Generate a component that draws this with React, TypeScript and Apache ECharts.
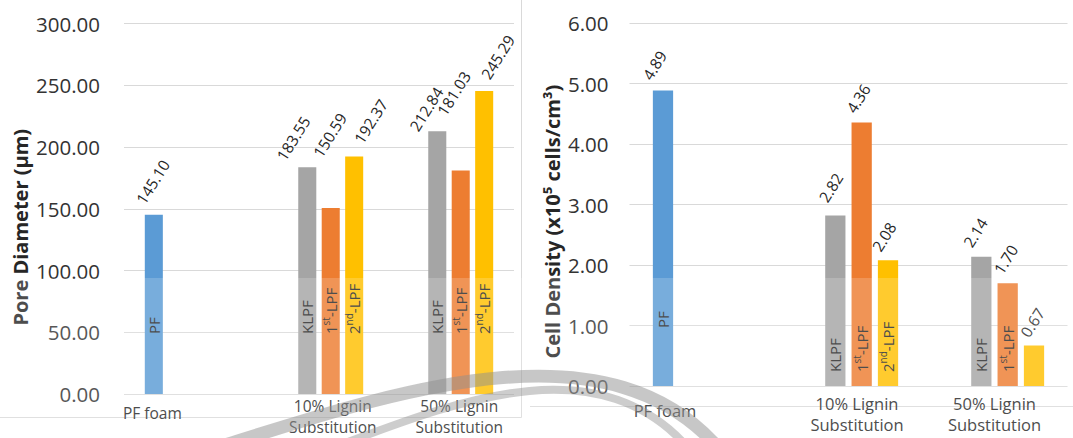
import { useEffect, useRef } from "react";
import * as echarts from "echarts";

// ---------- data ----------
const categories = ["PF foam", "10% Lignin\nSubstitution", "50% Lignin\nSubstitution"];
const seriesNames = ["PF", "KLPF", "1st-LPF", "2nd-LPF"];

const porePF = [145.1, null, null];
const poreKLPF = [null, 183.55, 212.84];
const pore1stLPF = [null, 150.59, 181.03];
const pore2ndLPF = [null, 192.37, 245.29];

const densityPF = [4.89, null, null];
const densityKLPF = [null, 2.82, 2.14];
const density1stLPF = [null, 4.36, 1.7];
const density2ndLPF = [null, 2.08, 0.67];

const poreTicks = [0, 50, 100, 150, 200, 250, 300];
const densityTicks = [0, 1, 2, 3, 4, 5, 6];

// [seriesIndex, categoryIndex] of bars without the series name printed inside
const densityHiddenNames = [[3, 2]];

// ---------- style ----------
const FONT = "'Open Sans', 'Noto Sans', sans-serif";
const TEXT = "#262626";
const colors = ["#5B9BD5", "#A5A5A5", "#ED7D31", "#FFC000"];
const BAR_GAP = 0.3;
const CAT_GAP = 0.32;

// value-label centre offsets (px) from the top centre of each bar, as placed in the original
const poreLabelShift = [
  [[-1, -33], null, null],
  [null, [-14, -29], [-11, -22]],
  [null, [-1, -73], [-7, -77]],
  [null, [16.5, -35], [13.5, -34]],
];
const densityLabelShift = [
  [[-8.5, -25], null, null],
  [null, [-4.5, -28], [-6, -24]],
  [null, [-3.5, -24], [-2, -24]],
  [null, [-4, -23.5], [-1.6, -23]],
];

const panels = [
  {
    grid: { left: 124, top: 23.5, width: 390, height: 374.2 },
    values: [porePF, poreKLPF, pore1stLPF, pore2ndLPF],
    ticks: poreTicks,
    name: "Pore Diameter (µm)",
    nameGap: 92,
    namePad: 37,
    yLabelMargin: 24,
    xFont: 15.5,
    xMargin: 1,
    xShift: [-36.6, 13.8, 10.3],
    labelShift: poreLabelShift,
    nameLift: [60, 60, 60, 60],
    hidden: [] as number[][],
  },
  {
    grid: { left: 629.5, top: 23.3, width: 438, height: 362.7 },
    values: [densityPF, densityKLPF, density1stLPF, density2ndLPF],
    ticks: densityTicks,
    name: "Cell Density (x10⁵ cells/cm³)",
    nameGap: 63,
    namePad: 34,
    yLabelMargin: 21,
    xFont: 16.5,
    xMargin: 6.6,
    xShift: [-37.5, 8.5, 0],
    labelShift: densityLabelShift,
    nameLift: [58, 14, 14, 14],
    hidden: densityHiddenNames,
  },
];

const richName = (n: string) => {
  const m = n.match(/^(\d)(st|nd)(-LPF)$/);
  return m ? `{n|${m[1]}}{s|${m[2]}}{n|${m[3]}}` : `{n|${n}}`;
};

function buildOption() {
  const grid: any[] = [];
  const xAxis: any[] = [];
  const yAxis: any[] = [];
  const series: any[] = [];

  panels.forEach((p, pi) => {
    grid.push({ ...p.grid });
    const rich: any = {};
    p.xShift.forEach((s, ci) => {
      rich["c" + ci] = {
        fontFamily: FONT,
        fontSize: p.xFont,
        color: TEXT,
        lineHeight: ci === 0 ? 35 : 21.5,
        padding: s < 0 ? [0, -2 * s, 0, 0] : [0, 0, 0, 2 * s],
      };
    });
    xAxis.push({
      type: "category",
      gridIndex: pi,
      data: categories,
      axisLine: { show: false },
      axisTick: { show: false },
      axisLabel: {
        interval: 0,
        margin: p.xMargin,
        lineHeight: 21.5,
        fontFamily: FONT,
        fontSize: p.xFont,
        color: TEXT,
        formatter: (v: string, idx: number) =>
          v
            .split("\n")
            .map((l) => `{c${idx}|${l}}`)
            .join("\n"),
        rich,
      },
    });
    yAxis.push({
      type: "value",
      gridIndex: pi,
      min: p.ticks[0],
      max: p.ticks[p.ticks.length - 1],
      interval: p.ticks[1] - p.ticks[0],
      name: p.name,
      nameLocation: "middle",
      nameGap: p.nameGap,
      nameTextStyle: {
        fontFamily: FONT,
        fontSize: 20,
        fontWeight: "bold",
        color: TEXT,
        lineHeight: 24,
        padding: [0, p.namePad, 0, 0],
      },
      axisLine: { show: false },
      axisTick: { show: false },
      splitLine: { lineStyle: { color: "#D9D9D9", width: 1 } },
      axisLabel: {
        margin: p.yLabelMargin,
        fontFamily: FONT,
        fontSize: 20.5,
        color: "#333333",
        formatter: (v: number) => v.toFixed(2),
      },
    });
  });

  // hidden twin category axes carrying the in-bar series names
  panels.forEach((p, pi) => {
    xAxis.push({ type: "category", gridIndex: pi, data: categories, show: false });
  });

  panels.forEach((p, pi) => {
    const n = p.values.length;
    const catW = p.grid.width / categories.length;
    const barW = (catW * (1 - CAT_GAP)) / (n + (n - 1) * BAR_GAP);
    p.values.forEach((vals, si) => {
      series.push({
        type: "bar",
        name: seriesNames[si],
        xAxisIndex: pi,
        yAxisIndex: pi,
        barGap: BAR_GAP * 100 + "%",
        barCategoryGap: CAT_GAP * 100 + "%",
        data: vals.map((v, ci) => {
          if (v == null) return "-";
          const sh = p.labelShift[si][ci] || [0, -30];
          return { value: v, label: { position: [barW / 2 + sh[0], sh[1]] } };
        }),
        itemStyle: { color: colors[si] },
        label: {
          show: true,
          rotate: 58,
          align: "center",
          verticalAlign: "middle",
          fontFamily: FONT,
          fontSize: 15.5,
          color: TEXT,
          formatter: (d: any) => Number(d.value).toFixed(2),
        },
      });
      series.push({
        type: "bar",
        name: seriesNames[si] + " label",
        xAxisIndex: panels.length + pi,
        yAxisIndex: pi,
        barGap: BAR_GAP * 100 + "%",
        barCategoryGap: CAT_GAP * 100 + "%",
        silent: true,
        itemStyle: { color: "rgba(0,0,0,0)" },
        data: vals.map((v, ci) => {
          if (v == null) return "-";
          const hide = p.hidden.some((h) => h[0] === si && h[1] === ci);
          return { value: v, label: hide ? { show: false } : {} };
        }),
        label: {
          show: true,
          position: "insideBottom",
          distance: p.nameLift[si],
          rotate: 90,
          align: "left",
          verticalAlign: "middle",
          formatter: () => richName(seriesNames[si]),
          rich: {
            n: { fontFamily: FONT, fontSize: 15, color: TEXT, lineHeight: 20 },
            s: { fontFamily: FONT, fontSize: 10, color: TEXT, lineHeight: 11, verticalAlign: "top" },
          },
        },
      });
    });
  });

  const graphic: any[] = [
    { type: "line", silent: true, z: 0, shape: { x1: 521.5, y1: 0, x2: 521.5, y2: 417.5 }, style: { stroke: "#D9D9D9", lineWidth: 1 } },
    { type: "line", silent: true, z: 0, shape: { x1: 0, y1: 417.5, x2: 521.5, y2: 417.5 }, style: { stroke: "#D9D9D9", lineWidth: 1 } },
    { type: "line", silent: true, z: 0, shape: { x1: 530, y1: 406.5, x2: 1073, y2: 406.5 }, style: { stroke: "#D9D9D9", lineWidth: 1 } },
    {
      type: "bezierCurve",
      silent: true,
      z: 99,
      shape: { x1: 225, y1: 445, cpx1: 400, cpy1: 390, cpx2: 610, cpy2: 320, x2: 720, y2: 450 },
      style: { stroke: "rgba(120,120,120,0.5)", lineWidth: 13, fill: "none" },
    },
    {
      type: "bezierCurve",
      silent: true,
      z: 99,
      shape: { x1: 340, y1: 445, cpx1: 460, cpy1: 400, cpx2: 600, cpy2: 345, x2: 690, y2: 450 },
      style: { stroke: "rgba(120,120,120,0.45)", lineWidth: 8, fill: "none" },
    },
    {
      type: "rect",
      silent: true,
      z: 100,
      shape: { x: 0, y: 278, width: 1073, height: 160 },
      style: { fill: "rgba(255,255,255,0.18)" },
    },
  ];

  return { animation: false, backgroundColor: "#ffffff", grid, xAxis, yAxis, series, graphic };
}

export default function App() {
  const ref = useRef<HTMLDivElement>(null);
  useEffect(() => {
    document.body.style.margin = "0";
    const chart = echarts.init(ref.current!, undefined, { renderer: "svg" });
    chart.setOption(buildOption() as any);
    return () => chart.dispose();
  }, []);
  return <div ref={ref} style={{ width: 1073, height: 438 }} />;
}
